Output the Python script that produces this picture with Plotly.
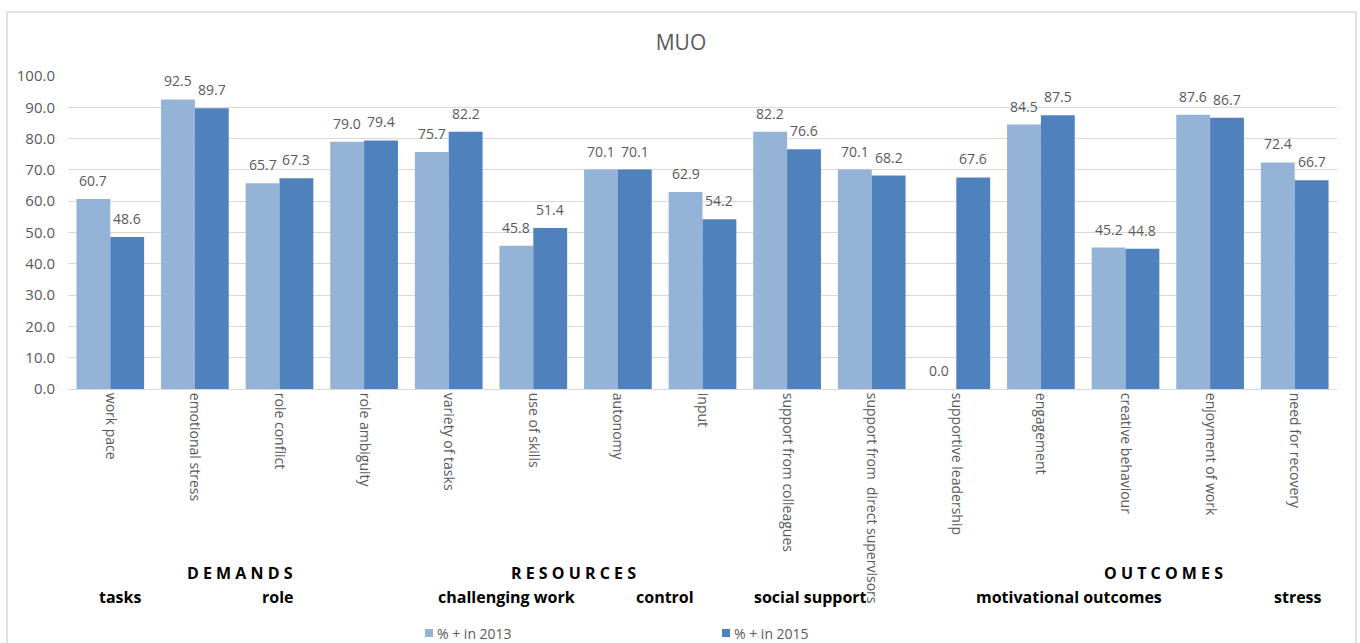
import plotly.graph_objects as go

# Survey items (x categories) and share of positive answers per wave
categories = [
    "work pace", "emotional stress", "role conflict", "role ambiguity",
    "variety of tasks", "use of skills", "autonomy", "input",
    "support from colleagues", "support from  direct supervisors",
    "supportive leadership", "engagement", "creative behaviour",
    "enjoyment of work", "need for recovery",
]
pct_2013 = [60.7, 92.5, 65.7, 79.0, 75.7, 45.8, 70.1, 62.9, 82.2, 70.1, 0.0, 84.5, 45.2, 87.6, 72.4]
pct_2015 = [48.6, 89.7, 67.3, 79.4, 82.2, 51.4, 70.1, 54.2, 76.6, 68.2, 67.6, 87.5, 44.8, 86.7, 66.7]
series_names = ["% + in 2013", "% + in 2015"]
series_colors = ["#95B3D7", "#4F81BD"]

# Group headings shown beneath the category axis
main_groups = ["D E M A N D S", "R E S O U R C E S", "O U T C O M E S"]
sub_groups = ["tasks", "role", "challenging work", "control", "social support",
              "motivational outcomes", "stress"]

W, H = 1360, 643
ML, MR, MT, MB = 68, 23, 76, 254
PW, PH = W - ML - MR, H - MT - MB
BARGAP = 0.2


def px(x):
    return (x - ML) / PW


def py(y):
    return 1 - (y - MT) / PH


GREY = "#595959"
FONT = "Open Sans"

fig = go.Figure()
for name, vals, col in zip(series_names, [pct_2013, pct_2015], series_colors):
    fig.add_trace(go.Bar(
        x=categories, y=vals, name=name, marker_color=col,
        marker_line_width=0, showlegend=False,
    ))

annotations = []

# Value labels above each bar, offset to the centre of its bar in the group
cat_px = PW / len(categories)
half_bar = cat_px * (1 - BARGAP) / 4
for vals, shift in zip([pct_2013, pct_2015], [-half_bar, half_bar]):
    for c, v in zip(categories, vals):
        annotations.append(dict(text=f"{v:.1f}", x=c, y=v, xref="x", yref="y",
                                xshift=shift, yshift=7, showarrow=False,
                                xanchor="center", yanchor="bottom",
                                font=dict(size=14, color=GREY, family=FONT)))

main_pos = [(240, 573), (573, 573), (1163, 573)]
for txt, (x, y) in zip(main_groups, main_pos):
    annotations.append(dict(text=f"<b>{txt}</b>", x=px(x), y=py(y), xref="paper", yref="paper",
                            showarrow=False, xanchor="center", yanchor="middle",
                            font=dict(size=16, color="#000000", family=FONT)))
sub_pos = [(120, 597), (278, 597), (506, 597), (665, 597), (810, 597), (1069, 597), (1298, 597)]
for txt, (x, y) in zip(sub_groups, sub_pos):
    annotations.append(dict(text=f"<b>{txt}</b>", x=px(x), y=py(y), xref="paper", yref="paper",
                            showarrow=False, xanchor="center", yanchor="middle",
                            font=dict(size=16, color="#000000", family=FONT)))

# Outer chart border
shapes = [dict(type="rect", xref="paper", yref="paper",
               x0=px(7), x1=px(1356), y0=py(660), y1=py(12),
               line=dict(color="#D9D9D9", width=1.5), fillcolor="rgba(0,0,0,0)", layer="below")]

# Legend: colour swatch followed by series name
legend_x = [425, 722]
for name, col, lx in zip(series_names, series_colors, legend_x):
    shapes.append(dict(type="rect", xref="paper", yref="paper",
                       x0=px(lx), x1=px(lx + 8), y0=py(637), y1=py(629),
                       line=dict(width=0), fillcolor=col))
    annotations.append(dict(text=name, x=px(lx + 10), y=py(633), xref="paper", yref="paper",
                            showarrow=False, xanchor="left", yanchor="middle",
                            font=dict(size=14, color=GREY, family=FONT)))

fig.update_layout(
    width=W, height=H,
    margin=dict(l=ML, r=MR, t=MT, b=MB, autoexpand=False),
    paper_bgcolor="white", plot_bgcolor="white",
    font=dict(family=FONT, color=GREY, size=12),
    title=dict(text="MUO", x=px(681), xref="paper", xanchor="center",
               y=1 - 43 / H, yanchor="middle",
               font=dict(size=21, color=GREY, family=FONT)),
    barmode="group", bargap=BARGAP, bargroupgap=0,
    showlegend=False,
    xaxis=dict(tickangle=90, tickfont=dict(size=14, color=GREY, family=FONT),
               showline=True, linecolor="#D9D9D9", linewidth=1, ticks="",
               showgrid=False),
    yaxis=dict(range=[0, 100], dtick=10, tickformat=".1f",
               gridcolor="#D9D9D9", gridwidth=1, zeroline=False,
               tickfont=dict(size=15, color=GREY, family=FONT), ticks="",
               ticklabelstandoff=12),
    annotations=annotations, shapes=shapes,
)

fig.write_html("out.html")
